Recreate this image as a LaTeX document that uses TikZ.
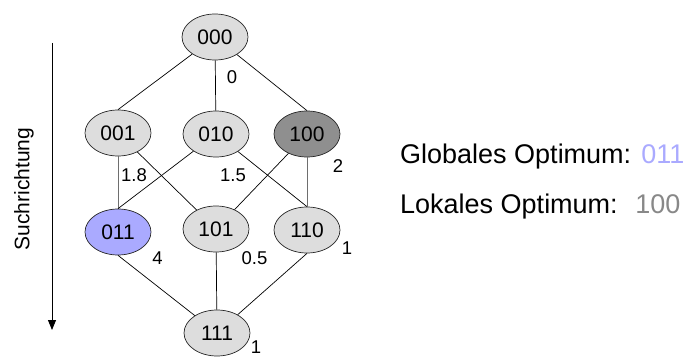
\documentclass[tikz,border=0pt]{standalone}
\usepackage{fontspec}
\setmainfont{Liberation Sans}
\usetikzlibrary{shapes.geometric,arrows.meta}
\definecolor{nodegray}{HTML}{DDDDDD}
\definecolor{darknode}{HTML}{8F8F8F}
\definecolor{optblue}{HTML}{AAAAFF}
\definecolor{localgray}{HTML}{888888}
\definecolor{vedge}{HTML}{6E6E6E}
\begin{document}
\begin{tikzpicture}[x=1pt,y=-1pt,
  state/.style={ellipse, draw=black!85, line width=0.7pt, fill=nodegray,
    minimum width=66pt, minimum height=46pt, inner sep=0pt,
    font=\fontsize{21}{21}\selectfont},
  edge/.style={line width=0.7pt, black},
  gedge/.style={line width=0.9pt, vedge},
  wt/.style={font=\fontsize{18.5}{18.5}\selectfont, inner sep=0pt},
  legend/.style={anchor=base west, inner sep=0pt, font=\fontsize{27}{27}\selectfont}]
\useasboundingbox (0,0) rectangle (685,358);

% nodes
\node[state] (n000) at (215,37) {000};
\node[state] (n001) at (118,133) {001};
\node[state] (n010) at (216,134) {010};
\node[state, fill=darknode] (n100) at (307,134) {100};
\node[state, fill=optblue] (n011) at (118,232) {011};
\node[state] (n101) at (216,229) {101};
\node[state] (n110) at (307,230) {110};
\node[state] (n111) at (217,333) {111};

% edges
\draw[edge] (n000) -- (n001.north);
\draw[edge] (n000) -- (n010);
\draw[edge] (n000) -- (n100.north);
\draw[gedge] (n001) -- (n011);
\draw[edge] (n001) -- (n101);
\draw[edge] (n010) -- (n011.north);
\draw[edge] (n010) -- (n110.north);
\draw[edge] (n100) -- (n101);
\draw[gedge] (n100) -- (n110);
\draw[edge] (n011.south) -- (n111);
\draw[edge] (n101) -- (n111);
\draw[edge] (n110.south) -- (n111);

% weights
\node[wt] (w000) at (232,77) {0};
\node[wt] (w001) at (134,175) {1.8};
\node[wt] (w010) at (233,175) {1.5};
\node[wt] (w100) at (338,166) {2};
\node[wt] (w011) at (157.5,258) {4};
\node[wt] (w101) at (254.5,258) {0.5};
\node[wt] (w110) at (347,248) {1};
\node[wt] (w111) at (256,347.5) {1};

% search direction
\coordinate (astart) at (52,43);
\coordinate (aend) at (52,330);
\draw[line width=0.9pt, -{Triangle[length=10pt,width=8pt]}] (astart) -- (aend);
\node[rotate=90, inner sep=0pt, font=\fontsize{21}{21}\selectfont] (dir) at (24,189) {Suchrichtung};

% legend
\node[legend] (glob) at (400,164) {Globales Optimum: \textcolor{optblue}{011}};
\node[legend] (lok) at (400,214) {Lokales Optimum: \ \textcolor{localgray}{100}};
\end{tikzpicture}
\end{document}
